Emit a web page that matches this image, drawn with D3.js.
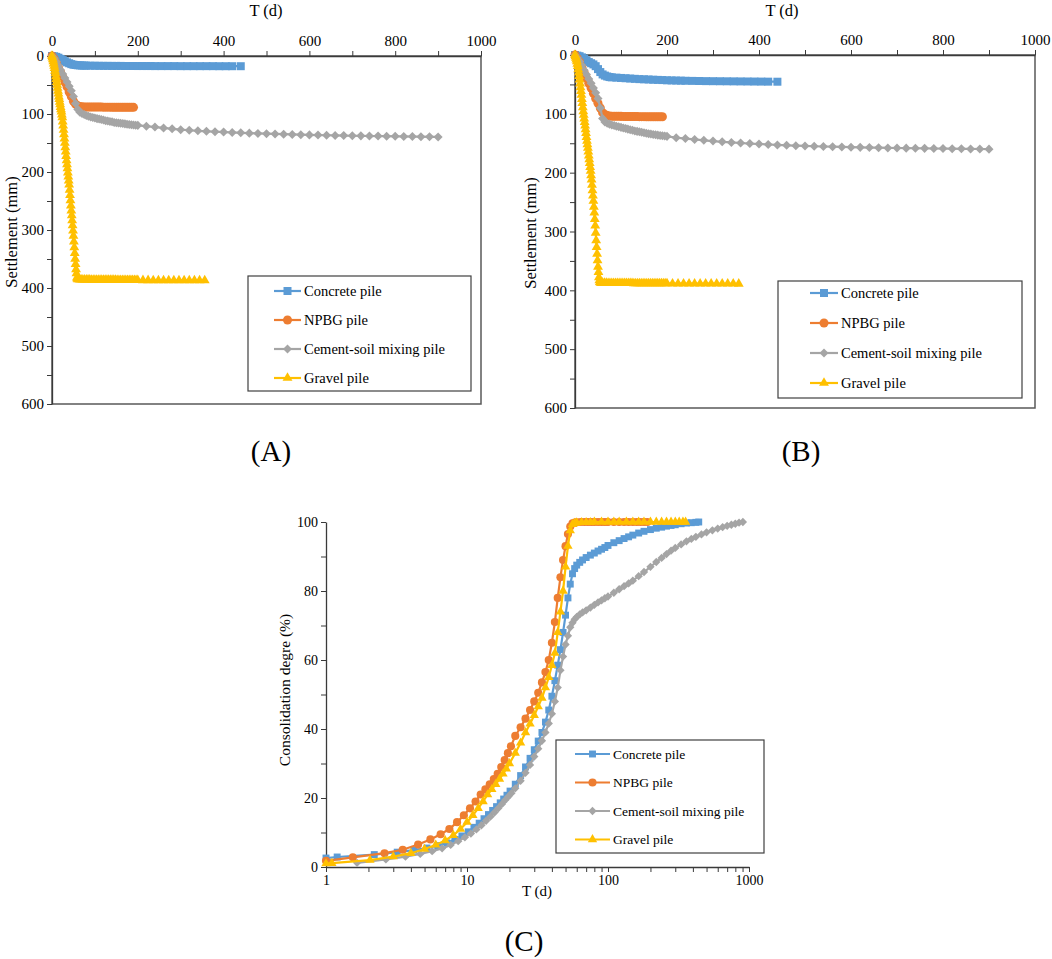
<!DOCTYPE html>
<html>
<head>
<meta charset="utf-8">
<script src="https://cdn.jsdelivr.net/npm/d3@7"></script>
<style>
  body { margin: 0; background: #fff; }
</style>
</head>
<body>
<div id="chart"></div>
<script>
// ===== Data =====
var seriesNames = ["Concrete pile", "NPBG pile", "Cement-soil mixing pile", "Gravel pile"];

// time (d) for panels A and B
var tConcrete = [0,5,10,15,20,25,30,35,40,45, 50,55,60,65,70,75,80,90,100,110,
  120,130,140,150,160,170,180,190,200,210, 220,230,240,255,270,285,300,315,330,345,
  360,375,390,405,420,440];
var tNpbg = [0,5,10,15,20,25,30,35,40,45, 50,55,60,65,70,75,80,85,90,95,
  100,105,110,115,120,125,130,135,140,145, 150,155,160,165,170,175,180,185,190];
var tCement = [0,5,10,15,20,25,30,35,40,45, 50,55,60,65,70,75,80,85,90,95,
  100,105,110,115,120,125,130,135,140,145, 150,155,160,165,170,175,180,185,190,195,
  200,220,240,260,280,300,320,340,360,380, 400,420,440,460,480,500,520,540,560,580,
  600,620,640,660,680,700,720,740,760,780, 800,820,840,860,880,900];
var tGravel = [0,1,2,3,4,5,6,7,8,9, 10,11,12,13,14,15,16,17,18,19,
  20,21,22,23,24,25,26,27,28,29, 30,31,32,33,34,35,36,37,38,39,
  40,41,42,43,44,45,46,47,48,49, 50,51,52,53,54,55,56,57,58,59,
  60,64,68,72,76,80,84,88,92,96, 100,104,108,112,116,120,124,128,132,136,
  140,144,148,152,156,160,164,168,172,176, 180,184,188,192,196,200,
  212,224,236,248,260,272,284,296,308,320,332,344,356];

// settlement (mm), panel A
var aConcrete = [0,0.5,1.5,3,5,7,9,11,12.5,14, 15,15.5,16,16.2,16.4,16.5,16.6,16.7,16.8,16.9,
  17,17,17.1,17.1,17.1,17.2,17.2,17.2,17.3,17.3, 17.3,17.3,17.4,17.4,17.4,17.4,17.5,17.5,17.5,17.5,
  17.5,17.5,17.6,17.6,17.6,17.6];
var aNpbg = [0,5,12,20,28,36,45,53,62,70, 78,83,86,87,87.5,88,88,88,88,88,
  88,88,88,88,88.2,88.2,88.2,88.2,88.3,88.3, 88.3,88.3,88.4,88.4,88.4,88.4,88.5,88.5,88.5];
var aCement = [0,4,10,17,24,31,38,45,52,60, 70,82,92,97,99,101,102.5,104,105,106,
  107,108,108.5,109.5,110.5,111.5,112,113,113.5,114.5, 115,115.5,116,116.5,117,117.5,118,118.5,119,119.3,
  119.6,121,122.5,124,125.5,127,128,129,129.8,130.5, 131.2,131.8,132.4,133,133.5,134,134.4,134.8,135.2,135.6,
  136,136.3,136.6,136.9,137.2,137.5,137.7,137.9,138.1,138.3, 138.5,138.7,138.9,139.1,139.3,139.5];
var aGravel = [0,3,6,9.5,13,17,21,25.5,30,35, 40,45,50,55,60,65,70,74.5,79,83.5,
  88,92,96,101,106,113,120,127.5,135,142.5, 150,157.5,165,172.5,180,187,194,201,208,215,
  222,231,240,249,258,266.5,275,283.5,292,301, 310,320,330,340,350,359,368,375,382,384,
  385,385.5,385.6,385.6,385.7,385.7,385.8,385.8,385.9,385.9, 386,386,386,386.1,386.1,386.1,386.2,386.2,386.2,386.3,
  386.3,386.3,386.3,386.4,386.4,386.4,386.4,386.5,386.5,386.5, 386.5,386.5,386.6,386.6,386.6,386.6,
  386.7,386.7,386.8,386.8,386.8,386.9,386.9,386.9,387,387,387,387,387.1];

// settlement (mm), panel B
var bConcrete = [0,1,2,4,6,9,12,14,16,19, 24,29,33,35,36.5,37.5,38,38.5,39,39.5,
  40,40.5,41,41.3,41.6,42,42.3,42.6,43,43.2, 43.4,43.6,43.8,44,44.2,44.4,44.5,44.6,44.7,44.8,
  44.9,45,45.1,45.2,45.3,45.4];
var bNpbg = [0,6,12,21,30,39,48,56,65,74, 82,90,98,101,103,103.5,104,104,104,104.2,
  104.3,104.4,104.5,104.5,104.6,104.6,104.7,104.7,104.8,104.8, 104.8,104.9,104.9,105,105,105,105,105,105];
var bCement = [0,5,11,18,26,33,41,48,56,64, 74,90,108,114,116,117.5,119,120,121,122,
  123,124,125,126,127,128,129,129.8,130.6,131.4, 132.2,133,133.7,134.4,135,135.6,136.2,136.8,137.3,137.8,
  138.3,140.5,142,143.5,145,146.3,147.5,148.6,149.6,150.5, 151.3,152.1,152.8,153.5,154.1,154.6,155.1,155.5,155.9,156.3,
  156.7,157,157.3,157.6,157.9,158.1,158.3,158.5,158.7,158.9, 159.1,159.3,159.5,159.6,159.8,160];
var bGravel = [0,2.5,5,8,11,15,19,24.5,30,36, 42,48.5,55,61.5,68,75,82,89,96,102,
  108,114,120,126.5,133,139.5,146,152,158,164.5, 171,177.5,184,190.5,197,204.5,212,221,230,239,
  248,258,268,279,290,302.5,315,326.5,338,349, 360,369,378,383,386,386.5,387,387.2,387.5,387.5,
  387.5,387.6,387.6,387.7,387.7,387.7,387.8,387.8,387.8,387.9, 387.9,387.9,388,388,388,388,388,388.1,388.1,388.1,
  388.1,388.2,388.2,388.2,388.2,388.2,388.3,388.3,388.3,388.3, 388.3,388.4,388.4,388.4,388.4,388.4,
  388.5,388.5,388.5,388.6,388.6,388.6,388.7,388.7,388.7,388.8,388.8,388.8,388.9];

// panel C: time (d, log axis) and consolidation degree (%)
var cTConcrete = [1,1.2,2.2,3.2,4.2,5.2,6.2,7.2,8.2,9.2, 10.2,11.2,12.2,13.2,14.2,15.2,16.2,17.2,18.2,19.2,
  20.2,22,24,26,28,30,32,34,36,38, 40,42,44,46,48,50,52,54,56,58,
  60,63,66,70,75,80,85,90,95,100, 110,120,130,140,150,165,180,200,220,240,
  260,280,300,330,360,390,420,440];
var cUConcrete = [2.6,2.9,3.6,4.3,4.9,5.5,6.2,7,8,9, 10.2,11.5,12.7,14,15.2,16.4,17.5,18.6,19.7,20.8,
  22,24,26.5,29,31.5,34,36.5,39,42,45.5, 49.5,54,58.5,63,68,73,78,82,85,86.5,
  87.5,88.3,89,89.7,90.4,91,91.6,92.1,92.6,93.2, 94,94.6,95.2,95.7,96.2,96.8,97.3,97.8,98.2,98.5,
  98.8,99,99.2,99.5,99.7,99.8,99.9,100];
var cTNpbg = [1,1.55,2.6,3.5,4.5,5.5,6.5,7.5,8.5,9.5, 10.5,11.5,12.5,13.5,14.5,15.5,16.5,17.5,18.5,19.5,
  20.5,22,24,26,28,30,32,34,36,38, 40,42,44,46,48,50,52,54,56,58,
  60,64,68,72,76,80,85,90,95,100, 110,120,130,140,150,160,170,180,190];
var cUNpbg = [1.8,2.8,4,5,6.5,8,9.5,11,13,15, 17,19,21,22.5,24,25.5,27,29,31,33,
  35,38,40.5,43,45.5,48,50.5,53.5,56.5,60, 65,71,78,84,89,93,96.5,98.7,99.6,99.8,
  99.9,100,100,100,100,100,100,100,100,100, 100,100,100,100,100,100,100,100,100];
var cTCement = [1.66,2.66,3.66,4.66,5.66,6.66,7.66,8.66,9.66,10.66, 11.66,12.66,13.66,14.66,15.66,16.66,17.66,18.66,19.66,20.66,
  22,24,26,28,30,32,34,36,38,40, 42,44,46,48,50,52,54,56,58,60,
  63,66,70,75,80,85,90,95,100,110, 120,130,140,150,165,180,200,220,240,260,
  280,300,330,360,390,420,460,500,550,600, 650,700,750,800,850,905];
var cUCement = [1.2,2.2,3,3.8,4.6,5.4,6.4,7.5,8.6,9.7, 10.9,12.1,13.4,14.6,15.8,17,18.2,19.4,20.4,21.4,
  22.8,25,27.3,29.6,32,34.3,36.6,39,41.6,44.4, 48,52,57,61,64.5,67,69.5,70.8,71.8,72.5,
  73.2,73.8,74.4,75.2,76,76.7,77.3,77.9,78.4,79.5, 80.5,81.4,82.2,83,84.3,85.5,87,88.4,89.6,90.7,
  91.7,92.5,93.5,94.4,95.1,95.7,96.4,97,97.6,98.1, 98.5,98.9,99.2,99.5,99.8,100];
var cTGravel = [1,1.1,2.05,3,4,5,6,7,8,9, 10,11,12,13,14,15,16,17,18,19,
  20,22,24,26,28,30,32,34,36,38, 40,42,44,46,48,50,52,54,56,58,
  60,65,70,75,80,90,100,110,120,135, 150,165,180,200,220,240,260,280,300,320,
  340,355];
var cUGravel = [1,1.1,2,3,4,5.2,6.4,7.7,9.2,11, 13,15,17,19,21,22.5,24,25.5,27,28.5,
  30,33,36,39,41.5,44,46.5,49,52,55, 58.5,62,68,74,80,87,93,97.5,99.3,99.7,
  99.8,99.9,99.9,99.9,100,100,100,100,100,100, 100,100,100,100,100,100,100,100,100,100,
  100,100];

// tick labels
var timeTicks = [0, 200, 400, 600, 800, 1000];
var settlementTicks = [0, 100, 200, 300, 400, 500, 600];
var logTicks = [1, 10, 100, 1000];
var degreeTicks = [0, 20, 40, 60, 80, 100];

// ===== Styles =====
var serif = "Liberation Serif, Times New Roman, serif";
var colors = ["#5B9BD5", "#ED7D31", "#A5A5A5", "#FFC000"];
var diamond = d3.symbolDiamond2 || d3.symbolDiamond;
var symbols = [d3.symbolSquare, d3.symbolCircle, diamond, d3.symbolTriangle];
var symSizeAB = [64, 64, 52, 42];
var symSizeC = [48, 52, 44, 38];
var axisColor = "#3a3a3a";

var svg = d3.select("#chart").append("svg")
    .attr("width", 1052)
    .attr("height", 959)
    .attr("font-family", serif);

function zip(ts, vs) {
    return ts.map(function(t, k) { return [t, vs[k]]; })
        .filter(function(d) { return d[1] !== undefined; });
}

// draws one series: line plus markers
function drawSeries(g, pts, x, y, i, sizes) {
    g.append("path")
        .datum(pts)
        .attr("d", d3.line().x(d => x(d[0])).y(d => y(d[1])))
        .attr("fill", "none")
        .attr("stroke", colors[i])
        .attr("stroke-width", 2.2);
    g.selectAll(null)
        .data(pts)
        .enter()
        .append("path")
        .attr("transform", d => `translate(${x(d[0])},${y(d[1])})`)
        .attr("d", d3.symbol().type(symbols[i]).size(sizes[i]))
        .attr("fill", colors[i]);
}

function drawLegend(L, sizes, fontSize) {
    var g = svg.append("g");
    g.append("rect")
        .attr("x", L.x).attr("y", L.y)
        .attr("width", L.w).attr("height", L.h)
        .attr("fill", "#fff")
        .attr("stroke", "#404040")
        .attr("stroke-width", 1.2);
    seriesNames.forEach(function(name, i) {
        var yy = L.row0 + i * L.step;
        g.append("line")
            .attr("x1", L.lx1).attr("x2", L.lx2)
            .attr("y1", yy).attr("y2", yy)
            .attr("stroke", colors[i]).attr("stroke-width", 2.2);
        g.append("path")
            .attr("transform", `translate(${(L.lx1 + L.lx2) / 2},${yy})`)
            .attr("d", d3.symbol().type(symbols[i]).size(sizes[i]))
            .attr("fill", colors[i]);
        g.append("text")
            .attr("x", L.tx).attr("y", yy)
            .attr("dy", "0.35em")
            .attr("font-family", serif)
            .attr("font-size", fontSize)
            .attr("fill", "#000")
            .text(name);
    });
}

function styleAxis(sel, fontSize) {
    sel.attr("font-family", serif).attr("font-size", fontSize);
    sel.select(".domain").attr("stroke", axisColor).attr("stroke-width", 1.3);
    sel.selectAll(".tick line").attr("stroke", axisColor).attr("stroke-width", 1);
    sel.selectAll("text").attr("fill", "#000");
}

// ===== Panels A and B: settlement vs time =====
function drawSettlement(p, values) {
    var g = svg.append("g");
    var x = d3.scaleLinear().domain([0, 1000]).range([p.left, p.right]);
    var y = d3.scaleLinear().domain([0, 600]).range([p.top, p.bottom]);

    // plot-area frame
    g.append("rect")
        .attr("x", p.left).attr("y", p.top)
        .attr("width", p.right - p.left).attr("height", p.bottom - p.top)
        .attr("fill", "none")
        .attr("stroke", "#595959")
        .attr("stroke-width", 1.5);

    var topAxis = d3.axisTop(x)
        .tickValues(d3.range(0, 1001, 100))
        .tickSize(5)
        .tickSizeOuter(0)
        .tickFormat(d => timeTicks.indexOf(d) >= 0 ? d : "");
    var leftAxis = d3.axisLeft(y)
        .tickValues(d3.range(0, 601, 50))
        .tickSize(5)
        .tickSizeOuter(0)
        .tickFormat(d => settlementTicks.indexOf(d) >= 0 ? d : "");

    g.append("g").attr("transform", `translate(0,${p.top})`).call(topAxis).call(styleAxis, 15)
        .selectAll("text").attr("dy", "-0.15em");
    g.append("g").attr("transform", `translate(${p.left},0)`).call(leftAxis).call(styleAxis, 15);

    var times = [tConcrete, tNpbg, tCement, tGravel];
    times.forEach(function(ts, i) {
        drawSeries(g, zip(ts, values[i]), x, y, i, symSizeAB);
    });

    // axis titles
    g.append("text")
        .attr("x", p.titleX).attr("y", 16)
        .attr("text-anchor", "middle")
        .attr("font-size", 16.5)
        .text("T (d)");
    g.append("text")
        .attr("transform", `translate(${p.yTitleX},${p.yTitleY}) rotate(-90)`)
        .attr("text-anchor", "middle")
        .attr("font-size", 16.5)
        .text("Settlement (mm)");
    g.append("text")
        .attr("x", p.labelX).attr("y", 461)
        .attr("text-anchor", "middle")
        .attr("font-size", 29)
        .text(p.label);

    drawLegend(p.legend, symSizeAB, 14.5);
}

drawSettlement({
    left: 52, top: 56, right: 481, bottom: 404,
    titleX: 266, yTitleX: 17, yTitleY: 232,
    label: "(A)", labelX: 271,
    legend: {x: 248, y: 276, w: 223, h: 115, row0: 291, step: 29, lx1: 274, lx2: 301, tx: 304}
}, [aConcrete, aNpbg, aCement, aGravel]);

drawSettlement({
    left: 575, top: 55, right: 1035, bottom: 408,
    titleX: 782, yTitleX: 536, yTitleY: 233,
    label: "(B)", labelX: 801,
    legend: {x: 778, y: 281, w: 244, h: 117, row0: 293, step: 30, lx1: 810, lx2: 838, tx: 841}
}, [bConcrete, bNpbg, bCement, bGravel]);

// ===== Panel C: consolidation degree vs log time =====
(function() {
    var g = svg.append("g");
    var x = d3.scaleLog().domain([1, 1000]).range([326, 749]);
    var y = d3.scaleLinear().domain([0, 100]).range([867, 522]);

    var minor = [];
    [1, 10, 100].forEach(function(dec) {
        for (var k = 1; k < 10; k++) minor.push(dec * k);
    });
    minor.push(1000);

    var bottomAxis = d3.axisBottom(x)
        .tickValues(minor)
        .tickSize(5)
        .tickSizeOuter(0)
        .tickFormat(d => logTicks.indexOf(d) >= 0 ? d : "");
    var leftAxis = d3.axisLeft(y)
        .tickValues(d3.range(0, 101, 10))
        .tickSize(5)
        .tickSizeOuter(0)
        .tickFormat(d => degreeTicks.indexOf(d) >= 0 ? d : "");

    g.append("g").attr("transform", "translate(0,867)").call(bottomAxis).call(styleAxis, 14);
    g.append("g").attr("transform", "translate(326,0)").call(leftAxis).call(styleAxis, 14);

    var cT = [cTConcrete, cTNpbg, cTCement, cTGravel];
    var cU = [cUConcrete, cUNpbg, cUCement, cUGravel];
    cT.forEach(function(ts, i) {
        drawSeries(g, zip(ts, cU[i]), x, y, i, symSizeC);
    });

    g.append("text")
        .attr("x", 537).attr("y", 896)
        .attr("text-anchor", "middle")
        .attr("font-size", 15)
        .text("T (d)");
    g.append("text")
        .attr("transform", "translate(290,690) rotate(-90)")
        .attr("text-anchor", "middle")
        .attr("font-size", 15.5)
        .text("Consolidation degre (%)");
    g.append("text")
        .attr("x", 524).attr("y", 951)
        .attr("text-anchor", "middle")
        .attr("font-size", 29)
        .text("(C)");

    drawLegend({x: 556, y: 740, w: 208, h: 113, row0: 754, step: 28.5, lx1: 575, lx2: 610, tx: 613},
        symSizeC, 13.5);
})();
</script>
</body>
</html>
